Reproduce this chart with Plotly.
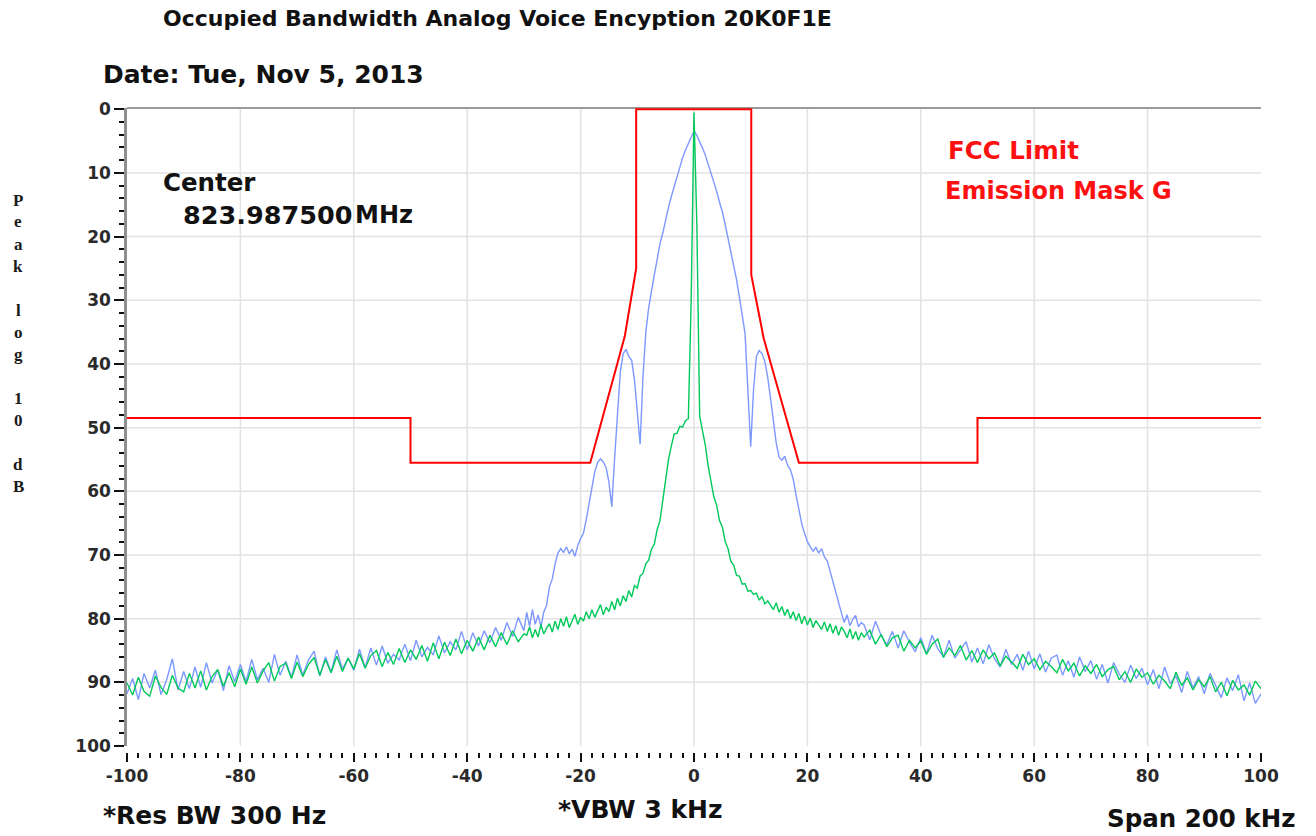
import numpy as np
import plotly.graph_objects as go

# ---------------- data ----------------
freq_left = np.arange(-100, -29, 1.0)     # -100 .. -30 kHz
freq_inner = np.arange(-29.5, 30.0, 0.5)  # -29.5 .. 29.5 kHz
freq_right = np.arange(30, 101, 1.0)      # 30 .. 100 kHz

blue_left = [
    91.8, 89.4, 92.7, 88.6, 90.9, 88.1, 91.9, 89.6, 86.3, 91.2,
    88.3, 91.0, 87.6, 90.8, 86.9, 90.1, 88.0, 91.3, 87.4, 89.9,
    87.2, 89.9, 86.4, 89.6, 87.8, 90.0, 85.6, 88.9, 86.7, 89.2,
    85.7, 88.9, 86.5, 85.1, 89.0, 86.0, 88.4, 84.9, 87.9, 86.2,
    88.1, 84.8, 87.7, 84.6, 87.3, 84.3, 87.0, 85.6, 86.5, 84.0,
    86.6, 83.4, 86.0, 84.5, 85.7, 82.7, 85.4, 83.6, 84.9, 82.0,
    84.9, 82.2, 84.3, 81.9, 83.8, 81.4, 83.4, 80.6, 82.8, 79.8,
    81.9,
]
blue_inner = [
    79.0, 81.2, 78.6, 80.9, 79.4, 81.3, 79.0, 77.9, 75.0, 73.8,
    71.4, 69.7, 69.0, 69.6, 68.7, 69.8, 69.1, 70.2, 68.5, 67.4,
    66.6, 64.4, 62.1, 59.3, 56.9, 55.5, 54.9, 55.4, 56.3, 58.6,
    62.4, 54.8, 47.2, 41.3, 38.4, 37.7, 38.8, 39.4, 42.5, 48.0,
    52.6, 42.0, 35.0, 31.2, 28.4, 26.0, 23.6, 21.1, 19.4, 17.2,
    15.4, 13.7, 12.1, 10.4, 9.1, 7.6, 6.4, 5.3, 4.4, 3.4,
    4.1, 5.0, 6.1, 7.2, 8.6, 10.0, 11.3, 12.9, 14.6, 16.1,
    18.1, 20.1, 22.2, 24.6, 26.7, 29.2, 32.3, 35.2, 43.5, 53.0,
    44.0, 38.8, 37.9, 38.4, 39.6, 42.1, 45.4, 49.2, 52.4, 54.6,
    55.1, 54.5, 55.9, 56.6, 58.1, 60.6, 63.1, 65.1, 66.6, 67.9,
    68.7, 69.4, 68.8, 69.7, 69.0, 70.3, 70.9, 72.6, 74.1, 76.1,
    77.6, 79.1, 80.6, 79.4, 81.1, 80.1, 79.5, 81.3, 80.6,
]
blue_right = [
    81.0, 83.3, 80.4, 82.6, 84.1, 82.0, 84.6, 81.9, 83.7, 85.2,
    83.0, 85.5, 82.6, 84.7, 86.0, 83.4, 86.2, 84.9, 83.6, 86.8,
    84.6, 87.1, 84.1, 86.3, 87.6, 84.8, 87.2, 85.6, 88.1, 85.1,
    87.9, 85.5, 88.4, 86.2, 85.7, 88.9, 86.6, 89.2, 86.0, 88.3,
    86.6, 89.5, 87.2, 90.1, 86.9, 88.7, 90.0, 87.3, 89.4, 87.8,
    90.4, 88.0, 91.0, 87.6, 90.2, 89.0, 91.6, 88.3, 90.9, 89.1,
    91.8, 88.6, 90.5, 92.4, 89.3, 91.3, 88.8, 92.9, 90.1, 93.3,
    91.8,
]

green_left = [
    90.1, 92.0, 89.2, 91.4, 92.2, 89.0, 90.8, 91.9, 88.9, 90.9,
    91.5, 88.6, 90.9, 88.2, 91.2, 89.1, 88.0, 90.6, 88.5, 90.7,
    87.9, 90.3, 87.6, 90.1, 88.2, 86.9, 89.8, 87.5, 87.0, 89.4,
    86.8, 89.1, 87.2, 86.1, 88.9, 86.4, 88.5, 85.9, 88.3, 86.2,
    87.9, 85.5, 87.8, 85.8, 85.0, 87.5, 85.3, 87.2, 84.7, 86.9,
    84.9, 86.4, 84.2, 86.7, 83.8, 86.3, 83.7, 85.8, 83.2, 85.5,
    83.4, 85.1, 82.9, 84.9, 82.6, 84.4, 82.2, 84.1, 81.9, 83.6,
    82.4,
]
green_inner = [
    82.6, 81.3, 83.0, 81.7, 82.9, 80.9, 82.4, 81.5, 80.8, 82.1,
    80.4, 81.7, 80.0, 81.2, 79.7, 81.4, 80.3, 79.3, 80.9, 79.8,
    80.4, 78.9, 80.0, 78.6, 79.8, 78.9, 77.8, 79.4, 78.2, 78.9,
    77.3, 78.6, 76.8, 78.0, 76.4, 77.3, 75.6, 76.6, 74.8, 75.2,
    73.3, 72.9, 71.4, 70.8, 69.1, 68.3, 66.0, 64.6, 61.3, 58.6,
    55.0, 52.9, 51.0, 50.9, 49.8, 49.9, 48.9, 48.6, 30.0, 0.5,
    18.0, 48.2, 50.6, 52.8, 56.0, 58.2, 60.9, 62.2, 64.6, 65.6,
    67.9, 69.0, 71.0, 71.6, 73.2, 73.3, 74.6, 74.5, 75.7, 75.6,
    76.2, 76.0, 77.1, 76.5, 77.7, 77.2, 78.0, 78.6, 77.5, 79.0,
    78.1, 79.5, 78.5, 80.0, 78.9, 80.3, 79.2, 80.8, 79.6, 81.0,
    79.9, 81.4, 80.3, 81.0, 81.7, 80.5, 82.0, 80.8, 82.3, 81.1,
    82.6, 81.3, 82.0, 83.0, 81.6, 83.2, 82.0, 83.4, 82.2,
]
green_right = [
    82.9, 81.8, 84.0, 82.5, 84.4, 83.0, 82.6, 85.1, 83.4, 84.6,
    83.5, 85.6, 84.0, 83.2, 86.1, 84.6, 85.8, 84.2, 86.5, 85.0,
    86.9, 84.9, 86.3, 85.4, 87.4, 85.9, 86.8, 87.8, 85.6, 87.2,
    86.3, 88.0, 86.7, 87.5, 88.5, 86.4, 88.2, 87.0, 89.0, 87.4,
    88.6, 87.2, 89.1, 88.0, 87.5, 89.6, 88.3, 90.0, 87.9, 89.2,
    88.5, 90.3, 88.9, 89.8, 91.0, 88.4, 90.5, 89.3, 91.2, 89.6,
    90.7, 89.1, 91.5, 90.0, 92.1, 89.7, 91.2, 90.4, 92.0, 89.8,
    91.0,
]

mask_freq = [-100, -50, -50, -18.3, -12.2, -10.2, -10.2, 10.1, 10.1, 12.3, 18.5, 50, 50, 100]
mask_level = [48.5, 48.5, 55.5, 55.5, 35.6, 25.0, 0.0, 0.0, 26.0, 36.0, 55.5, 55.5, 48.5, 48.5]

x_tick_vals = [-100, -80, -60, -40, -20, 0, 20, 40, 60, 80, 100]
x_tick_text = ["-100", "-80", "-60", "-40", "-20", "0", "20", "40", "60", "80", "100"]
x_major = [-80, -60, -40, -20, 0, 20, 40, 60, 80]
y_major = [10, 20, 30, 40, 50, 60, 70, 80, 90]

freq = np.concatenate([freq_left, freq_inner, freq_right])
blue = np.array(blue_left + blue_inner + blue_right)
green = np.array(green_left + green_inner + green_right)

# ---------------- layout helpers ----------------
W, H = 1316, 836
ML, MT = 127, 108
PW = 1134
MR = W - ML - PW
MB = 60
PH = H - MT - MB
PLOT_BOTTOM = 746
TICK_TOP = 752


def paper(xp, yp):
    """screen pixel -> paper fraction"""
    return (xp - ML) / PW, (H - MB - yp) / PH


FONT = "DejaVu Sans"

fig = go.Figure()
fig.add_trace(go.Scatter(x=freq, y=blue, mode="lines",
                         line=dict(color="#7d98ff", width=1.4), hoverinfo="skip"))
fig.add_trace(go.Scatter(x=freq, y=green, mode="lines",
                         line=dict(color="#00c95a", width=1.4), hoverinfo="skip"))
fig.add_trace(go.Scatter(x=mask_freq, y=mask_level, mode="lines",
                         line=dict(color="#ff0000", width=2), hoverinfo="skip"))

shapes = []
for xv in x_major:
    shapes.append(dict(type="line", xref="x", yref="y domain", x0=xv, x1=xv, y0=0, y1=1,
                       line=dict(color="#e2e2e2", width=1.5), layer="below"))
for yv in y_major:
    shapes.append(dict(type="line", xref="x domain", yref="y", x0=0, x1=1, y0=yv, y1=yv,
                       line=dict(color="#e2e2e2", width=1.5), layer="below"))
shapes.append(dict(type="line", xref="x domain", yref="y domain", x0=0, x1=1, y0=1, y1=1,
                   line=dict(color="#9a9a9a", width=2), layer="below"))

ydom0 = (H - MB - PLOT_BOTTOM) / PH
xpos = (H - MB - TICK_TOP) / PH

annotations = []


def add_text(text, xp, yp, size, color="#111111", family=FONT, weight="bold"):
    ax, ay = paper(xp, yp)
    annotations.append(dict(text=text, x=ax, y=ay, xref="paper", yref="paper",
                            xanchor="left", yanchor="middle", showarrow=False,
                            font=dict(family=family, size=size, color=color, weight=weight)))


add_text("Occupied Bandwidth Analog Voice Encyption 20K0F1E", 161, 18, 22)
add_text("Date: Tue, Nov 5, 2013", 101, 74, 25)
add_text("Center", 161, 182, 24.5)
add_text("823.987500", 181, 215, 25.5)
add_text("MHz", 353, 215, 24)
add_text("FCC Limit", 946, 150, 24.5, color="#ff1010")
add_text("Emission Mask G", 943, 191, 24, color="#ff1010")
add_text("*Res BW 300 Hz", 101, 815, 25)
add_text("*VBW 3 kHz", 556, 810, 25)
add_text("Span 200 kHz", 1105, 818, 24.5)

# stacked vertical y-axis title
ylabel_chars = ["P", "e", "a", "k", "", "l", "o", "g", "", "1", "0", "", "d", "B"]
for i, ch in enumerate(ylabel_chars):
    if not ch:
        continue
    ax, ay = paper(18, 200 + 22 * i)
    annotations.append(dict(text=ch, x=ax, y=ay, xref="paper", yref="paper",
                            xanchor="center", yanchor="middle", showarrow=False,
                            font=dict(family="Liberation Serif", size=17, color="#1a1a1a",
                                      weight="bold")))

fig.update_layout(
    width=W, height=H,
    margin=dict(l=ML, r=MR, t=MT, b=MB, pad=0),
    paper_bgcolor="white", plot_bgcolor="white",
    showlegend=False,
    shapes=shapes,
    annotations=annotations,
    xaxis=dict(
        range=[-100, 100], tickmode="array", tickvals=x_tick_vals, ticktext=x_tick_text,
        ticks="outside", ticklen=9, tickwidth=2, tickcolor="#111111",
        showgrid=False, zeroline=False, showline=False,
        anchor="free", position=xpos,
        tickfont=dict(family=FONT, size=17, color="#2a2a2a", weight="bold"),
        minor=dict(tickmode="linear", dtick=2, tick0=0, ticks="outside", ticklen=5,
                   tickwidth=1.5, tickcolor="#111111", showgrid=False),
    ),
    yaxis=dict(
        range=[100, -0.2], tickmode="linear", tick0=0, dtick=10,
        ticks="outside", ticklen=10, tickwidth=2, tickcolor="#111111",
        showgrid=False, zeroline=False, showline=True, linecolor="#8f8f8f", linewidth=2.5,
        domain=[ydom0, 1],
        tickfont=dict(family=FONT, size=17, color="#2a2a2a", weight="bold"),
        minor=dict(dtick=2, tick0=0, ticks="outside", ticklen=5, tickwidth=1.5,
                   tickcolor="#111111", showgrid=False),
    ),
)

fig.write_html(
    "out.html",
    config={"displayModeBar": False},
    post_script="document.body.style.margin='0px';document.body.style.overflow='hidden';",
)
